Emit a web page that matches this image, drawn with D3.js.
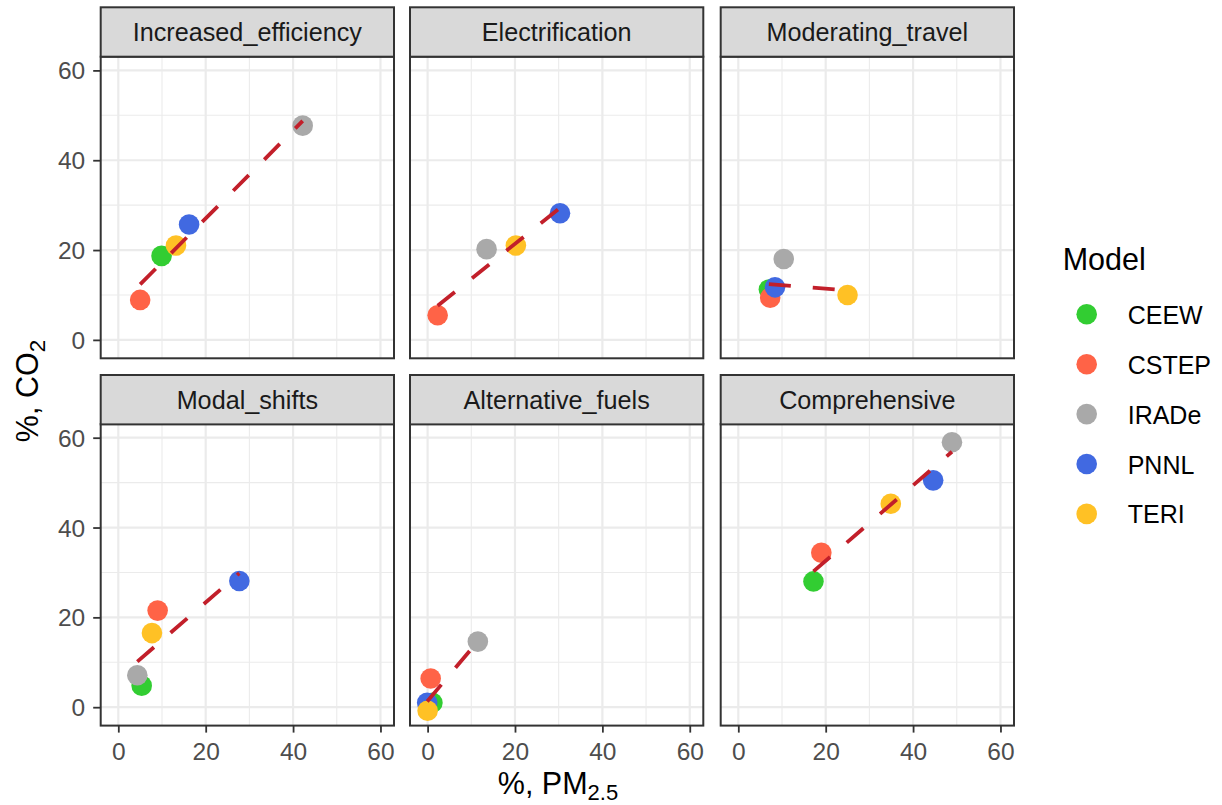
<!DOCTYPE html>
<html>
<head>
<meta charset="utf-8">
<script src="https://cdn.jsdelivr.net/npm/d3@7"></script>
<style>
  body { margin: 0; background: #fff; }
  svg text { font-family: "Liberation Sans", Arial, sans-serif; }
</style>
</head>
<body>
<script>
// facet panels, in reading order
var scenarios = ["Increased_efficiency", "Electrification", "Moderating_travel",
                 "Modal_shifts", "Alternative_fuels", "Comprehensive"];
var models = ["CEEW", "CSTEP", "IRADe", "PNNL", "TERI"];
var modelColors = ["#32CD32", "#FF6347", "#A9A9A9", "#4169E1", "#FFC125"];

// % reduction in PM2.5, one row per scenario, one column per model (null = no run)
var pm25 = [
  [9.9, 5.0, 42.2, 16.2, 13.2],
  [null, 2.3, 13.5, 30.3, 20.2],
  [7.0, 7.3, 10.4, 8.4, 25.0],
  [5.35, 9.0, 4.35, 27.7, 7.7],
  [1.1, 0.7, 11.5, -0.1, 0.0],
  [17.2, 19.0, 48.9, 44.6, 34.9]
];
// % reduction in CO2, same layout
var co2 = [
  [18.7, 8.9, 47.7, 25.7, 21.0],
  [null, 5.5, 20.2, 28.2, 21.0],
  [11.2, 9.4, 18.0, 11.7, 10.0],
  [4.8, 21.5, 7.1, 28.1, 16.5],
  [1.0, 6.4, 14.6, 1.0, -0.8],
  [28.0, 34.4, 59.0, 50.5, 45.3]
];
var majorTicks = [0, 20, 40, 60];
var minorTicks = [10, 30, 50];

var width = 1222,
    height = 805,
    svg = d3.select("body").append("svg")
      .attr("width", width)
      .attr("height", height);

var colLeft = [100.7, 410, 720.7],
    panelW = 293.3,
    stripTop = [7.3, 375],
    stripH = 49.4,
    panelTop = [56.7, 424],
    panelH = 301.6;

var x = d3.scaleLinear().domain([-4.03, 63.1]).range([0, panelW]);
var y = d3.scaleLinear().domain([-4.1, 63.05]).range([panelH, 0]);
var color = d3.scaleOrdinal(models, modelColors);

var grey30 = "#4D4D4D", grey20 = "#333333";

scenarios.forEach(function(name, i) {
  var col = i % 3, row = Math.floor(i / 3);
  var g = svg.append("g")
      .attr("transform", "translate(" + colLeft[col] + "," + panelTop[row] + ")");

  // grid
  g.selectAll(".vminor").data(minorTicks).enter().append("line")
      .attr("x1", x).attr("x2", x).attr("y1", 0).attr("y2", panelH)
      .attr("stroke", "#EBEBEB").attr("stroke-width", 1.1);
  g.selectAll(".hminor").data(minorTicks).enter().append("line")
      .attr("y1", y).attr("y2", y).attr("x1", 0).attr("x2", panelW)
      .attr("stroke", "#EBEBEB").attr("stroke-width", 1.1);
  g.selectAll(".vmajor").data(majorTicks).enter().append("line")
      .attr("x1", x).attr("x2", x).attr("y1", 0).attr("y2", panelH)
      .attr("stroke", "#EBEBEB").attr("stroke-width", 2.2);
  g.selectAll(".hmajor").data(majorTicks).enter().append("line")
      .attr("y1", y).attr("y2", y).attr("x1", 0).attr("x2", panelW)
      .attr("stroke", "#EBEBEB").attr("stroke-width", 2.2);

  var pts = models.map(function(m, j) {
    return {model: m, x: pm25[i][j], y: co2[i][j]};
  }).filter(function(d) { return d.x != null; });

  g.selectAll("circle").data(pts).enter().append("circle")
      .attr("cx", function(d) { return x(d.x); })
      .attr("cy", function(d) { return y(d.y); })
      .attr("r", 10.3)
      .attr("fill", function(d) { return color(d.model); });

  // least squares fit, drawn over the observed x range
  var mx = d3.mean(pts, function(d) { return d.x; }),
      my = d3.mean(pts, function(d) { return d.y; });
  var slope = d3.sum(pts, function(d) { return (d.x - mx) * (d.y - my); }) /
              d3.sum(pts, function(d) { return (d.x - mx) * (d.x - mx); });
  var ext = d3.extent(pts, function(d) { return d.x; });
  g.append("path")
      .datum(ext.map(function(v) { return [v, my + slope * (v - mx)]; }))
      .attr("d", d3.line().x(function(d) { return x(d[0]); }).y(function(d) { return y(d[1]); }))
      .attr("fill", "none")
      .attr("stroke", "#C21F2A")
      .attr("stroke-width", 3.8)
      .attr("stroke-dasharray", "22,22");

  g.append("rect")
      .attr("width", panelW).attr("height", panelH)
      .attr("fill", "none").attr("stroke", grey20).attr("stroke-width", 2);

  // strip
  var s = svg.append("g")
      .attr("transform", "translate(" + colLeft[col] + "," + stripTop[row] + ")");
  s.append("rect")
      .attr("width", panelW).attr("height", stripH)
      .attr("fill", "#D9D9D9").attr("stroke", grey20).attr("stroke-width", 2);
  s.append("text")
      .attr("x", panelW / 2).attr("y", stripH / 2 + 9)
      .attr("text-anchor", "middle")
      .attr("font-size", 25.2)
      .attr("fill", "#1A1A1A")
      .text(name);

  if (col == 0) {
    var ya = g.append("g")
        .call(d3.axisLeft(y).tickValues(majorTicks).tickSize(7.5).tickPadding(8));
    ya.select(".domain").remove();
    ya.selectAll("line").attr("stroke", grey20).attr("stroke-width", 1.8);
    ya.selectAll("text").attr("font-size", 24.5).attr("fill", grey30)
        .attr("font-family", "Liberation Sans, Arial, sans-serif").attr("dy", "0.35em");
  }
  if (row == 1) {
    var xa = g.append("g")
        .attr("transform", "translate(0," + panelH + ")")
        .call(d3.axisBottom(x).tickValues(majorTicks).tickSize(7).tickPadding(10.5));
    xa.select(".domain").remove();
    xa.selectAll("line").attr("stroke", grey20).attr("stroke-width", 1.8);
    xa.selectAll("text").attr("font-size", 24.5).attr("fill", grey30)
        .attr("font-family", "Liberation Sans, Arial, sans-serif");
  }
});

// axis titles
var xt = svg.append("text")
    .attr("x", 558).attr("y", 794)
    .attr("text-anchor", "middle")
    .attr("font-size", 30.5)
    .attr("fill", "#000");
xt.append("tspan").text("%, PM");
xt.append("tspan").attr("font-size", 22).attr("dy", 5.5).text("2.5");

var yt = svg.append("text")
    .attr("transform", "translate(38.3,391) rotate(-90)")
    .attr("text-anchor", "middle")
    .attr("font-size", 30.5)
    .attr("fill", "#000");
yt.append("tspan").text("%, CO");
yt.append("tspan").attr("font-size", 22.5).attr("dy", 6.7).text("2");

// legend
var lg = svg.append("g").attr("transform", "translate(1062.7,270)");
lg.append("text")
    .attr("font-size", 30.5)
    .attr("fill", "#000")
    .text("Model");
var item = lg.selectAll(".item").data(models).enter().append("g")
    .attr("transform", function(d, i) { return "translate(0," + (44.3 + i * 49.9) + ")"; });
item.append("circle")
    .attr("cx", 24).attr("cy", 0).attr("r", 10.3)
    .attr("fill", function(d) { return color(d); });
item.append("text")
    .attr("x", 65).attr("y", 9.5)
    .attr("font-size", 25)
    .attr("fill", "#000")
    .text(function(d) { return d; });
</script>
</body>
</html>
